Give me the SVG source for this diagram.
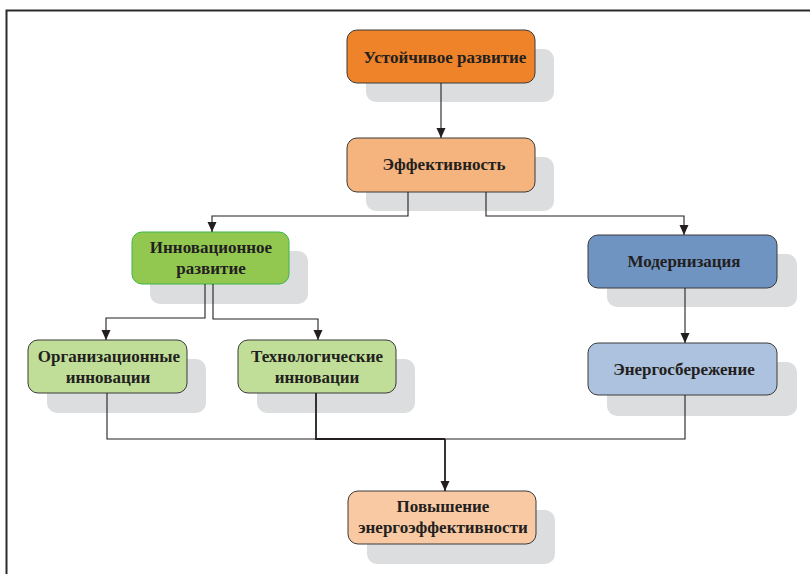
<svg xmlns="http://www.w3.org/2000/svg" width="810" height="574" viewBox="0 0 810 574">
<defs>
<marker id="arr" markerUnits="userSpaceOnUse" markerWidth="10" markerHeight="10" refX="10" refY="5" orient="auto">
<path d="M0,0.5 L10,5 L0,9.5 z" fill="#231f20"/>
</marker>
<style>
.sh{fill:#dcdddf;}
.bx{stroke:#3a3a3a;stroke-width:1;}
.t{font-weight:bold;font-size:17px;fill:#231f20;text-anchor:middle;}
.c{fill:none;stroke:#231f20;stroke-width:1.1;}
</style>
</defs>
<rect x="0" y="0" width="810" height="574" fill="#ffffff"/>
<rect x="6.5" y="10.5" width="830" height="600" fill="none" stroke="#2b2b2b" stroke-width="2"/>
<g font-family="Liberation Serif, DejaVu Serif, serif">
<g id="n1">
<rect class="sh" x="366" y="49" width="188" height="53" rx="10"/>
<rect class="bx" x="347" y="30" width="188" height="53" rx="10" fill="#ef8329"/>
<text class="t" x="445" y="63">Устойчивое развитие</text>
</g>
<g id="n2">
<rect class="sh" x="366" y="157" width="188" height="54" rx="10"/>
<rect class="bx" x="347" y="138" width="188" height="54" rx="10" fill="#f5b47d"/>
<text class="t" x="444" y="170">Эффективность</text>
</g>
<g id="n3">
<rect class="sh" x="150" y="251" width="158" height="53" rx="10"/>
<rect x="132" y="232" width="157" height="52" rx="10" fill="#92c850" stroke="#3cb54a" stroke-width="1"/>
<text class="t" x="211" y="253">Инновационное</text>
<text class="t" x="211" y="274">развитие</text>
</g>
<g id="n4">
<rect class="sh" x="607" y="254" width="190" height="53" rx="10"/>
<rect class="bx" x="588" y="235" width="189" height="53" rx="10" fill="#6f94c2"/>
<text class="t" x="684" y="267">Модернизация</text>
</g>
<g id="n5">
<rect class="sh" x="47" y="359" width="159" height="54" rx="10"/>
<rect class="bx" x="28" y="340" width="159" height="53" rx="10" fill="#c0de98"/>
<text class="t" x="109" y="362">Организационные</text>
<text class="t" x="108" y="383">инновации</text>
</g>
<g id="n6">
<rect class="sh" x="257" y="359" width="158" height="54" rx="10"/>
<rect class="bx" x="238" y="340" width="158" height="53" rx="10" fill="#c0de98"/>
<text class="t" x="317" y="362">Технологические</text>
<text class="t" x="317" y="383">инновации</text>
</g>
<g id="n7">
<rect class="sh" x="607" y="362" width="190" height="54" rx="10"/>
<rect class="bx" x="588" y="343" width="189" height="52" rx="10" fill="#adc2de"/>
<text class="t" x="684" y="375">Энергосбережение</text>
</g>
<g id="n8">
<rect class="sh" x="367" y="510" width="188" height="54" rx="10"/>
<rect class="bx" x="348" y="491" width="188" height="53" rx="10" fill="#f8c9a3"/>
<text class="t" x="443" y="512">Повышение</text>
<text class="t" x="443" y="533">энергоэффективности</text>
</g>
</g>
<g id="connectors">
<path class="c" d="M441,83 V138" marker-end="url(#arr)"/>
<path class="c" d="M408,192 V216 H212 V232" marker-end="url(#arr)"/>
<path class="c" d="M486,192 V216 H684 V235" marker-end="url(#arr)"/>
<path class="c" d="M205,284 V318 H106 V340" marker-end="url(#arr)"/>
<path class="c" d="M213,284 V319 H318 V340" marker-end="url(#arr)"/>
<path class="c" d="M685,288 V343" marker-end="url(#arr)"/>
<path class="c" d="M107,393 V439 H316"/>
<path class="c" d="M685,395 V439 H445"/>
<path class="c" style="stroke-width:1.8" d="M316,393 V439 H445"/>
<path class="c" style="stroke-width:1.8" d="M445,439 V491" marker-end="url(#arr)"/>
</g>
</svg>
